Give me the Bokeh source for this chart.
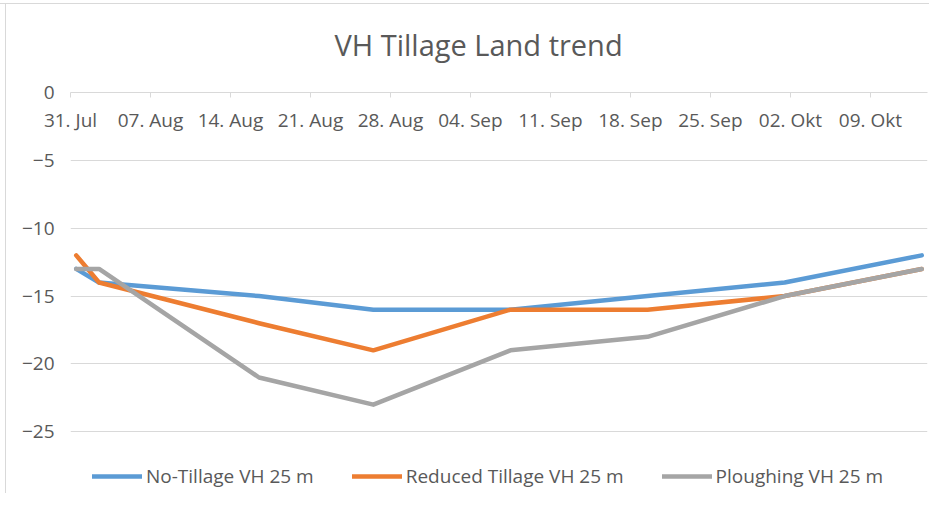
import pandas as pd
from bokeh.plotting import figure
from bokeh.models import Range1d, FixedTicker, Legend, LegendItem
from bokeh.embed import file_html
from bokeh.resources import INLINE

# ---- data ----
dates = ["2019-07-31", "2019-08-02", "2019-08-16", "2019-08-26",
         "2019-09-07", "2019-09-19", "2019-10-01", "2019-10-13"]
no_tillage = [-13, -14, -15, -16, -16, -15, -14, -12]
reduced_tillage = [-12, -14, -17, -19, -16, -16, -15, -13]
ploughing = [-13, -13, -21, -23, -19, -18, -15, -13]

axis_start = "2019-07-31"
axis_days = 75
tick_step_days = 7
tick_labels = ["31. Jul", "07. Aug", "14. Aug", "21. Aug", "28. Aug", "04. Sep",
               "11. Sep", "18. Sep", "25. Sep", "02. Okt", "09. Okt"]
y_ticks = [0, -5, -10, -15, -20, -25]
y_view_bottom = -29.4   # room under the -25 line for the legend

series_names = ["No-Tillage VH 25 m", "Reduced Tillage VH 25 m", "Ploughing VH 25 m"]
series_colors = ["#5B9BD5", "#ED7D31", "#A5A5A5"]

# ---- derived positions ----
start = pd.Timestamp(axis_start)
x_days = [(pd.Timestamp(d) - start).days + 0.5 for d in dates]  # plotted mid-day, like a date axis
tick_days = [i * tick_step_days for i in range(len(tick_labels))]

FONT = "Open Sans"
TXT = "#595959"
GRID = "#D9D9D9"

p = figure(width=929, height=500, output_backend="svg", toolbar_location=None,
           x_range=Range1d(0, axis_days), y_range=Range1d(y_view_bottom, max(y_ticks)),
           x_axis_location="above",
           min_border_left=70, min_border_right=2, min_border_top=99, min_border_bottom=2)
p.outline_line_color = None
p.background_fill_color = "white"
p.border_fill_alpha = 0
# thin chart-area border (left and top edge) painted behind the transparent canvas
p.styles = {
    "margin-top": "-7px",
    "background-color": "white",
    "background-image": f"linear-gradient({GRID}, {GRID}), linear-gradient({GRID}, {GRID})",
    "background-size": "100% 1px, 1px 100%",
    "background-position": "0 10px, 5px 10px",
    "background-repeat": "no-repeat",
}

# title
p.title.text = "VH Tillage Land trend"
p.title.align = "left"
p.title.offset = 264
p.title.standoff = 58
p.title.text_font = FONT
p.title.text_font_size = "29px"
p.title.text_font_style = "normal"
p.title.text_color = TXT

# x axis at y = 0, labels pushed below the line
xa = p.xaxis[0]
xa.ticker = FixedTicker(ticks=tick_days)
xa.major_label_overrides = {t: lab for t, lab in zip(tick_days, tick_labels)}
xa.major_tick_in = 5
xa.major_tick_out = 0
xa.minor_tick_line_color = None
xa.axis_line_color = GRID
xa.major_tick_line_color = GRID
xa.major_label_standoff = -40
xa.major_label_text_font = FONT
xa.major_label_text_font_size = "19px"
xa.major_label_text_color = TXT
p.xgrid.visible = False

# y axis
ya = p.yaxis[0]
ya.ticker = FixedTicker(ticks=y_ticks)
ya.axis_line_color = None
ya.major_tick_line_color = None
ya.major_tick_out = 0
ya.major_tick_in = 0
ya.minor_tick_line_color = None
ya.major_label_standoff = 16
ya.major_label_text_font = FONT
ya.major_label_text_font_size = "19px"
ya.major_label_text_color = TXT
p.ygrid.ticker = FixedTicker(ticks=y_ticks)
p.ygrid.grid_line_color = GRID
p.ygrid.grid_line_width = 1

renderers = []
for vals, col in zip([no_tillage, reduced_tillage, ploughing], series_colors):
    r = p.line(x_days, vals, line_color=col, line_width=4.5,
               line_cap="round", line_join="round")
    renderers.append(r)

legend = Legend(items=[LegendItem(label=n, renderers=[r]) for n, r in zip(series_names, renderers)],
                orientation="horizontal", location=(22, 2),
                glyph_width=50, glyph_height=26, label_standoff=4, spacing=38,
                padding=0, margin=0, background_fill_alpha=0, border_line_alpha=0,
                label_text_font=FONT, label_text_font_size="19px", label_text_color=TXT)
p.add_layout(legend)

open("out.html", "w").write(file_html(p, INLINE))
